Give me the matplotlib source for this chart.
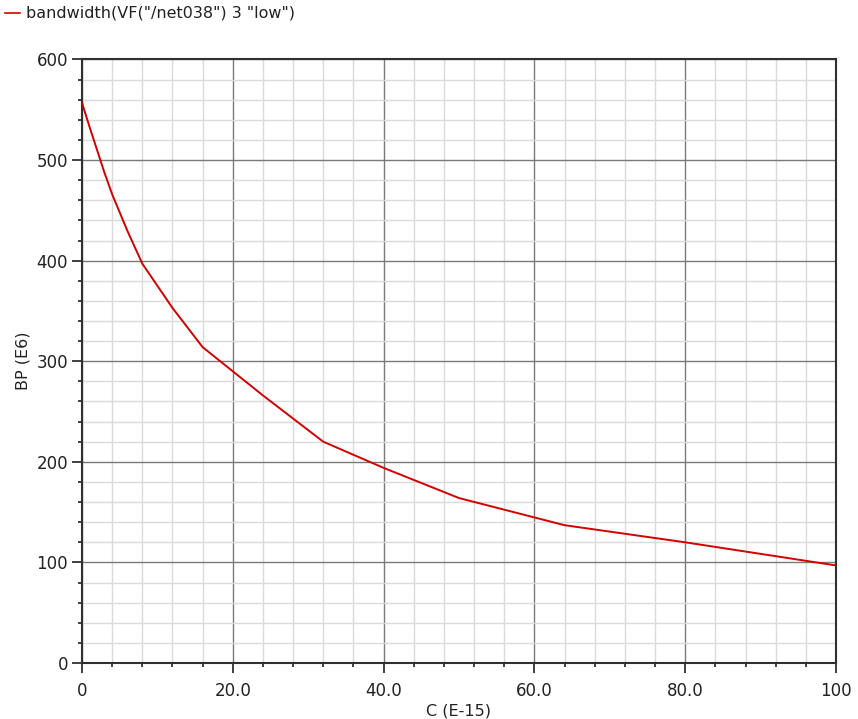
import numpy as np
import matplotlib
matplotlib.use('Agg')
import matplotlib.pyplot as plt
from matplotlib.ticker import MultipleLocator, FixedFormatter, FixedLocator

# sweep of load capacitance vs bandwidth
cap = [0, 1, 2, 3, 4, 6, 8, 12, 16, 24, 32, 40, 50, 64, 80, 100]
bw = [557, 533, 510, 487, 466, 430, 397, 353, 314, 266, 220, 194, 164, 137, 120, 97]

x_ticks = [0, 20, 40, 60, 80, 100]
x_labels = ['0', '20.0', '40.0', '60.0', '80.0', '100']
y_ticks = [0, 100, 200, 300, 400, 500, 600]
legend_text = 'bandwidth(VF("/net038") 3 "low")'

plt.rcParams['font.family'] = ['DejaVu Sans']

fig = plt.figure(figsize=(8.58, 7.19), dpi=100)
ax = fig.add_axes([82 / 858, 1 - 663 / 719, (836 - 82) / 858, (663 - 59.5) / 719])

ax.plot(cap, bw, color='#d40000', lw=1.4, zorder=3)

ax.set_xlim(0, 100)
ax.set_ylim(0, 600)
ax.xaxis.set_major_locator(FixedLocator(x_ticks))
ax.xaxis.set_major_formatter(FixedFormatter(x_labels))
ax.xaxis.set_minor_locator(MultipleLocator(4))
ax.yaxis.set_major_locator(FixedLocator(y_ticks))
ax.yaxis.set_minor_locator(MultipleLocator(20))

ax.grid(which='major', color='#7a7a7a', lw=1.0, zorder=1)
ax.grid(which='minor', color='#dadada', lw=1.0, zorder=0)

for s in ax.spines.values():
    s.set_color('#303030')
    s.set_linewidth(1.5)

ax.tick_params(which='major', length=7, width=1.3, color='#303030',
               labelsize=12, labelcolor='#222222', pad=3)
ax.tick_params(axis='x', which='major', pad=7)
ax.tick_params(which='minor', length=3, width=1.3, color='#303030')

ax.set_xlabel('C (E-15)', fontsize=11.5, color='#222222', labelpad=2)
ax.set_ylabel('BP (E6)', fontsize=11.5, color='#222222', labelpad=4)

# legend drawn at the very top like the simulator window
fig.add_artist(plt.Line2D([5 / 858, 20 / 858], [1 - 13 / 719, 1 - 13 / 719],
                          color='#d40000', lw=1.2))
fig.text(26 / 858, 1 - 13 / 719, legend_text, fontsize=11.5, color='#222222',
         va='center', ha='left')

fig.savefig('out.png', dpi=100, facecolor='white')
